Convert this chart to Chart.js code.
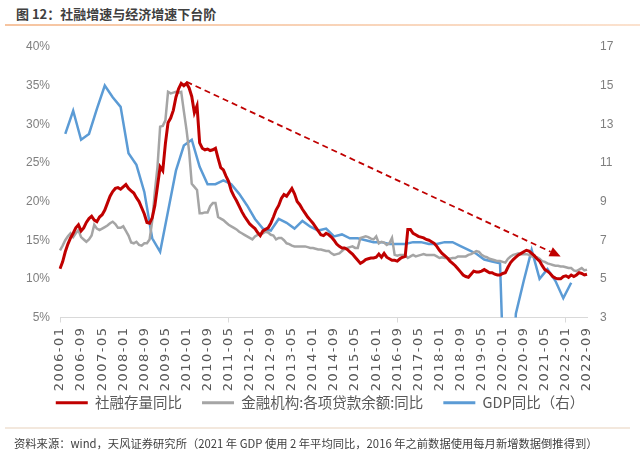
<!DOCTYPE html>
<html>
<head>
<meta charset="utf-8">
<script src="https://cdn.jsdelivr.net/npm/chart.js@4.4.0/dist/chart.umd.min.js"></script>
<style>
  body { margin: 0; background: #fff; }
  #wrap { position: relative; width: 640px; height: 461px; overflow: hidden; font-family: "Noto Sans CJK SC", sans-serif; }
  #chart { position: absolute; left: 0; top: 0; }
  #title { position: absolute; left: 16px; top: 4px; font-size: 13px; font-weight: bold; color: #404040; white-space: nowrap; }
  #titleLine { position: absolute; left: 5px; top: 24px; width: 635px; height: 2px; background: linear-gradient(to right, #f6c4a0, #fbe2cf); }
  #noteLine { position: absolute; left: 5px; top: 427px; width: 625px; height: 2px; background: #f3e8dd; }
  #note { position: absolute; left: 14px; top: 435px; font-size: 11.3px; color: #404040; white-space: nowrap; }
</style>
</head>
<body>
<div id="wrap">
  <div id="title">图 12：社融增速与经济增速下台阶</div>
  <div id="titleLine"></div>
  <canvas id="chart" width="640" height="461"></canvas>
  <div id="noteLine"></div>
  <div id="note">资料来源：wind，天风证券研究所（2021 年 GDP 使用 2 年平均同比，2016 年之前数据使用每月新增数据倒推得到）</div>
</div>
<script>
// 月份 2006-01 ~ 2022-09
var months = [];
for (var yr = 2006; yr <= 2022; yr++) {
    for (var mo = 1; mo <= 12; mo++) {
        if (yr === 2022 && mo > 9) break;
        months.push(yr + '-' + (mo < 10 ? '0' : '') + mo);
    }
}

// 社融存量同比 (%)
var tsfGrowth = [
    11.3, 12.2, 13.5, 14.5, 15.3, 15.9, 16.6, 17.0, 16.2, 16.6, 17.3, 17.8,
    18.1, 17.6, 17.4, 18.0, 18.3, 18.9, 19.8, 20.7, 21.3, 21.7, 21.8, 21.6,
    21.9, 22.2, 21.7, 21.4, 21.1, 20.5, 20.0, 19.2, 18.4, 17.3, 17.2, 17.9,
    19.5, 22.0, 24.5, 24.0, 27.5, 30.2, 30.8, 31.8, 33.5, 34.6, 35.3, 35.0,
    35.3, 34.7, 33.6, 31.5, 32.4, 27.6, 26.9, 26.7, 26.8, 26.6, 26.7, 26.9,
    25.6, 24.4, 24.1, 23.3, 22.6, 21.4, 20.7, 20.1, 19.4, 18.7, 18.1, 17.6,
    17.1, 16.8, 16.5, 16.0, 15.6, 16.2, 16.4, 16.6, 17.2, 18.0, 18.9, 19.5,
    20.4, 20.9, 20.7, 21.2, 21.7, 21.0, 20.0, 19.6, 19.0, 18.5, 18.0, 17.6,
    17.2, 16.7, 16.2, 15.7, 15.6, 15.9, 15.7, 15.4, 15.0, 14.5, 14.2, 14.0,
    14.0, 13.8, 13.5, 13.2, 12.8, 12.4, 12.0, 12.2, 12.5, 12.6, 12.7, 12.7,
    12.8, 13.2, 12.8, 13.3, 12.8, 12.6, 12.4, 12.4, 12.3, 12.6, 12.8, 12.9,
    16.4, 16.4, 15.9, 15.7, 15.5, 15.4, 15.3, 15.1, 15.0, 14.8, 14.6, 14.2,
    13.7, 13.3, 13.0, 12.7, 12.3, 12.0, 11.7, 11.3, 10.9, 10.5, 10.3, 10.2,
    10.6, 11.0, 10.9, 10.9, 11.0, 11.2, 11.0, 10.8, 10.8, 10.6, 10.5, 10.5,
    10.7, 10.8, 11.5, 12.1, 12.5, 12.8, 13.1, 13.3, 13.5, 13.7, 13.6, 13.3,
    13.0, 12.6, 12.3, 11.7, 11.2, 11.0, 10.7, 10.3, 10.1, 10.0, 10.0, 10.3,
    10.4, 10.2, 10.5, 10.3, 10.5, 10.8, 10.7, 10.5, 10.6
];

// 金融机构:各项贷款余额:同比 (%)
var loanGrowth = [
    13.7, 14.3, 15.0, 15.5, 15.9, 15.4, 15.9, 16.3, 15.4, 15.1, 14.8, 15.1,
    15.6, 17.0, 16.5, 16.3, 16.5, 16.7, 16.9, 17.2, 17.4, 17.1, 16.6, 16.6,
    16.8, 16.2, 15.6, 14.7, 14.6, 14.8, 14.4, 14.3, 14.6, 14.6, 15.1, 17.5,
    21.3, 24.5, 29.7, 29.8, 30.5, 34.2, 34.0, 34.1, 34.2, 34.1, 34.2, 31.7,
    29.3, 26.5, 22.3, 21.9, 21.5, 18.5, 18.5, 18.6, 18.6, 19.4, 19.8, 19.8,
    18.0, 17.8, 17.6, 17.3, 17.0, 16.8, 16.6, 16.4, 16.1, 15.9, 15.7, 15.5,
    15.3, 15.1, 15.5, 15.7, 15.8, 15.9, 16.1, 16.0, 15.7, 15.6, 15.1, 15.3,
    15.3, 15.0, 14.6, 14.5, 14.3, 14.2, 14.2, 14.2, 14.2, 14.2, 14.1, 14.0,
    14.0, 13.9, 13.8, 13.8, 13.7, 13.6, 13.6, 13.3, 13.1, 13.2, 13.3, 13.6,
    13.9, 14.0, 14.1, 14.2, 14.0, 14.0, 15.3, 15.4, 15.5, 15.4, 15.2, 15.1,
    15.5, 14.6, 14.8, 14.7, 14.4, 14.6, 15.3, 13.1, 13.0, 13.1, 13.1, 13.1,
    12.7, 12.9, 13.1, 12.9, 13.0, 13.1, 13.2, 13.1, 13.1, 13.1, 13.1, 12.9,
    12.7, 12.8, 12.7, 12.7, 12.6, 12.7, 12.7, 12.9, 12.9, 12.9, 12.9, 13.1,
    13.2, 13.4, 13.6, 13.5, 13.1, 12.9, 12.8, 12.6, 12.5, 12.4, 12.3, 12.3,
    12.2, 12.1, 12.6, 12.9, 13.1, 13.2, 13.3, 13.2, 13.2, 13.2, 13.1, 12.9,
    12.8, 12.8, 12.6, 12.3, 12.2, 12.0, 11.9, 11.8, 11.7, 11.7, 11.6, 11.6,
    11.5, 11.4, 11.4, 11.1, 11.0, 11.2, 11.4, 11.1, 11.2
];

// GDP同比 (%), 季度末
var gdpQuarters = [];
for (var qy = 2006; qy <= 2022; qy++) {
    ['03', '06', '09', '12'].forEach(function (qm) {
        if (qy === 2022 && qm !== '03') return;
        gdpQuarters.push(qy + '-' + qm);
    });
}
var gdpValues = [
    12.5, 13.7, 12.2, 12.5,
    13.8, 15.0, 14.4, 13.9,
    11.5, 10.9, 9.5, 7.1,
    6.4, 8.5, 10.6, 11.9,
    12.2, 10.8, 9.9, 9.9,
    10.1, 9.9, 9.4, 8.8,
    8.1, 7.6, 7.5, 8.1,
    7.9, 7.6, 8.0, 7.7,
    7.5, 7.6, 7.2, 7.3,
    7.1, 7.1, 7.0, 6.9,
    6.9, 6.8, 6.8, 6.8,
    6.9, 6.9, 6.8, 6.8,
    6.9, 6.9, 6.7, 6.5,
    6.3, 6.0, 5.9, 5.8,
    -6.8, 3.2, 4.9, 6.5,
    5.0, 5.5, 4.9, 4.0,
    4.8
];

// 左轴 / 右轴刻度
var leftTicks = [5, 10, 15, 20, 25, 30, 35, 40];
var rightTicks = [3, 5, 7, 9, 11, 13, 15, 17];

// 下台阶趋势箭头 (月份, 左轴值)
var trendFrom = ['2010-01', 35.5];
var trendTo = ['2021-11', 12.9];

var trendArrow = {
    id: 'trendArrow',
    afterDatasetsDraw: function (chart) {
        var ctx = chart.ctx, xs = chart.scales.x, ys = chart.scales.y;
        var x0 = xs.getPixelForValue(months.indexOf(trendFrom[0])), y0 = ys.getPixelForValue(trendFrom[1]);
        var x1 = xs.getPixelForValue(months.indexOf(trendTo[0])), y1 = ys.getPixelForValue(trendTo[1]);
        var ang = Math.atan2(y1 - y0, x1 - x0), head = 11, half = 5;
        var bx = x1 - head * Math.cos(ang), by = y1 - head * Math.sin(ang);
        ctx.save();
        ctx.strokeStyle = '#c00000';
        ctx.lineWidth = 1.8;
        ctx.setLineDash([6, 4]);
        ctx.beginPath();
        ctx.moveTo(x0, y0);
        ctx.lineTo(bx, by);
        ctx.stroke();
        ctx.setLineDash([]);
        ctx.fillStyle = '#c00000';
        ctx.beginPath();
        ctx.moveTo(x1, y1);
        ctx.lineTo(bx + half * Math.sin(ang), by - half * Math.cos(ang));
        ctx.lineTo(bx - half * Math.sin(ang), by + half * Math.cos(ang));
        ctx.closePath();
        ctx.fill();
        ctx.restore();
    }
};

var ctx = document.getElementById('chart').getContext('2d');
var chart = new Chart(ctx, {
    type: 'line',
    data: {
        labels: months,
        datasets: [{
            label: '社融存量同比',
            data: tsfGrowth,
            borderColor: '#c00000',
            backgroundColor: '#c00000',
            borderWidth: 3,
            yAxisID: 'y'
        }, {
            label: '金融机构:各项贷款余额:同比',
            data: loanGrowth,
            borderColor: '#a5a5a5',
            backgroundColor: '#a5a5a5',
            borderWidth: 2.5,
            yAxisID: 'y'
        }, {
            label: 'GDP同比（右）',
            data: gdpQuarters.map(function (q, i) { return { x: q, y: gdpValues[i] }; }),
            borderColor: '#5b9bd5',
            backgroundColor: '#5b9bd5',
            borderWidth: 2.5,
            yAxisID: 'y1'
        }]
    },
    options: {
        responsive: false,
        animation: false,
        elements: {
            point: { radius: 0 },
            line: { tension: 0 }
        },
        layout: {
            padding: { top: 47, bottom: 41, left: 0, right: 0 }
        },
        scales: {
            x: {
                offset: false,
                grid: {
                    drawOnChartArea: false,
                    tickLength: 5,
                    color: '#d9d9d9',
                    tickColor: function (c) { return c.index % 8 === 0 ? '#d9d9d9' : 'rgba(0,0,0,0)'; }
                },
                border: { display: true, color: '#d9d9d9' },
                ticks: {
                    autoSkip: false,
                    maxRotation: 90,
                    minRotation: 90,
                    padding: 4,
                    color: '#595959',
                    font: { size: 13, family: 'DejaVu Sans' },
                    callback: function (value, index) {
                        return index % 8 === 0 ? months[index] : null;
                    }
                },
                afterFit: function (scale) { scale.height = 58; },
                afterUpdate: function (scale) {
                    // 标签比轴区域长，不裁剪；加字距
                    scale._computeLabelArea = function () { return undefined; };
                    scale.drawLabels = function (area) {
                        this.ctx.save();
                        this.ctx.letterSpacing = '1.5px';
                        Object.getPrototypeOf(this).drawLabels.call(this, area);
                        this.ctx.restore();
                    };
                }
            },
            y: {
                position: 'left',
                min: leftTicks[0],
                max: leftTicks[leftTicks.length - 1],
                grid: { display: false, drawTicks: false },
                border: { display: false },
                afterBuildTicks: function (scale) {
                    scale.ticks = leftTicks.map(function (v) { return { value: v }; });
                },
                ticks: {
                    padding: 10,
                    color: '#7f7f7f',
                    font: { size: 12, family: 'Liberation Sans' },
                    callback: function (value) { return value + '%'; }
                },
                afterFit: function (scale) { scale.width = 60; }
            },
            y1: {
                position: 'right',
                min: rightTicks[0],
                max: rightTicks[rightTicks.length - 1],
                grid: { display: false, drawTicks: false },
                border: { display: false },
                afterBuildTicks: function (scale) {
                    scale.ticks = rightTicks.map(function (v) { return { value: v }; });
                },
                ticks: {
                    padding: 13,
                    color: '#7f7f7f',
                    font: { size: 12, family: 'Liberation Sans' }
                },
                afterFit: function (scale) { scale.width = 53; }
            }
        },
        plugins: {
            legend: {
                position: 'bottom',
                labels: {
                    boxWidth: 32,
                    boxHeight: 3,
                    padding: 20,
                    color: '#595959',
                    font: { size: 14.5, family: 'Noto Sans CJK SC' },
                    generateLabels: function (c) {
                        return Chart.defaults.plugins.legend.labels.generateLabels(c).map(function (item) {
                            item.lineWidth = 0;
                            return item;
                        });
                    }
                }
            },
            tooltip: { enabled: false }
        }
    },
    plugins: [trendArrow]
});
</script>
</body>
</html>
